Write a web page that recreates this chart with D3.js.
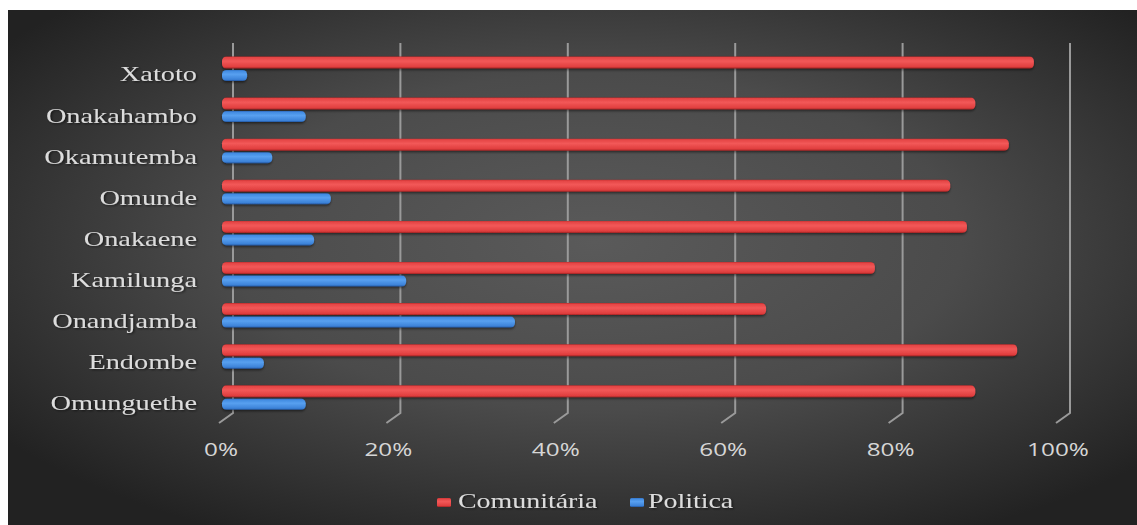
<!DOCTYPE html>
<html>
<head>
<meta charset="utf-8">
<script src="https://cdn.jsdelivr.net/npm/d3@7"></script>
<style>
  html, body { margin: 0; padding: 0; background: #ffffff; }
  svg { display: block; }
</style>
</head>
<body>
<svg id="chart" width="1137" height="525"></svg>
<script>
// Share of each kind of participation per locality (percent)
const categories = ["Xatoto", "Onakahambo", "Okamutemba", "Omunde", "Onakaene",
                    "Kamilunga", "Onandjamba", "Endombe", "Omunguethe"];
const comunitaria = [97, 90, 94, 87, 89, 78, 65, 95, 90];
const politica    = [3, 10, 6, 13, 11, 22, 35, 5, 10];
const tickValues  = [0, 20, 40, 60, 80, 100];
const seriesNames = ["Comunitária", "Politica"];

const svg = d3.select("#chart");
const W = 1137, H = 525;
const defs = svg.append("defs");

// background: dark panel with a soft radial glow
const bg = defs.append("radialGradient").attr("id", "bgGlow")
  .attr("cx", "52%").attr("cy", "45%").attr("r", "65%");
bg.append("stop").attr("offset", "0%").attr("stop-color", "#5a5a5a");
bg.append("stop").attr("offset", "50%").attr("stop-color", "#4b4b4b");
bg.append("stop").attr("offset", "100%").attr("stop-color", "#222222");

svg.append("rect").attr("x", 8).attr("y", 10).attr("width", W - 8).attr("height", H - 10)
  .attr("fill", "url(#bgGlow)");

// cylinder shading for the bars
function cylinder(id, stops) {
  const g = defs.append("linearGradient").attr("id", id)
    .attr("x1", 0).attr("y1", 0).attr("x2", 0).attr("y2", 1);
  stops.forEach(([o, c]) => g.append("stop").attr("offset", o).attr("stop-color", c));
}
cylinder("redCyl", [["0%", "#b82c2c"], ["8%", "#e44444"], ["40%", "#f25858"], ["86%", "#e03e3e"], ["100%", "#9c2222"]]);
cylinder("blueCyl", [["0%", "#2a62b4"], ["8%", "#408ae0"], ["40%", "#58a0f0"], ["86%", "#3c82d8"], ["100%", "#22549c"]]);

const soft = defs.append("filter").attr("id", "txtShadow")
  .attr("x", "-10%").attr("y", "-20%").attr("width", "120%").attr("height", "140%");
soft.append("feDropShadow").attr("dx", 1).attr("dy", 1).attr("stdDeviation", 0.8)
  .attr("flood-color", "#000").attr("flood-opacity", 0.6);

const barShadow = defs.append("filter").attr("id", "barShadow")
  .attr("x", "-2%").attr("y", "-40%").attr("width", "104%").attr("height", "180%");
barShadow.append("feDropShadow").attr("dx", 0).attr("dy", 1.5).attr("stdDeviation", 1)
  .attr("flood-color", "#000").attr("flood-opacity", 0.5);

// scales: back plane for gridlines, bars sit on the front plane
const x = d3.scaleLinear().domain([0, 100]).range([233, 1070]);
const depthX = -11, depthY = 10;
const y = d3.scaleBand().domain(categories).range([48.4, 418.4]);
const gridTop = 43, gridBottom = 413;

// gridlines with their perspective foot
const grid = svg.append("g").attr("stroke", "#9a9a9a").attr("stroke-width", 2).attr("fill", "none");
grid.selectAll("path").data(tickValues).join("path")
  .attr("d", d => `M${x(d)},${gridTop}V${gridBottom}L${x(d) + depthX - 3},${gridBottom + depthY}`);

// x-axis tick labels, placed on the front plane
const axis = d3.axisBottom(x.copy().range([233 + depthX - 1, 1070 + depthX - 1]))
  .tickValues(tickValues).tickFormat(d => d + "%").tickSize(0);
const ax = svg.append("g").attr("transform", "translate(0,443)").call(axis);
ax.select(".domain").remove();
ax.selectAll(".tick").each(function (d) {
  d3.select(this).attr("transform", `translate(${x(d) + depthX - 1},0) scale(1.35,1)`);
});
ax.selectAll("text")
  .attr("fill", "#d6d6d6")
  .attr("font-family", "'Open Sans', sans-serif")
  .attr("font-size", 18)
  .attr("dy", 0)
  .attr("y", 13);

// category labels
const labels = svg.append("g");
labels.selectAll("text").data(categories).join("text")
  .attr("transform", d => `translate(197,${y(d) + y.bandwidth() / 2 + 12.5}) scale(1.35,1)`)
  .attr("text-anchor", "end")
  .attr("font-family", "'Liberation Serif', 'Times New Roman', serif")
  .attr("font-size", 21)
  .attr("fill", "#dcdcdc")
  .attr("filter", "url(#txtShadow)")
  .text(d => d);

// bars
const x0 = x(0) + depthX;
const barW = v => x(v) - x(0);
const bars = svg.append("g").attr("filter", "url(#barShadow)");
bars.selectAll("rect.com").data(categories).join("rect").attr("class", "com")
  .attr("x", x0)
  .attr("y", d => y(d) + y.bandwidth() / 2 - 12.5)
  .attr("width", (d, i) => barW(comunitaria[i]))
  .attr("height", 12)
  .attr("rx", 4.5)
  .attr("fill", "url(#redCyl)");
bars.selectAll("rect.pol").data(categories).join("rect").attr("class", "pol")
  .attr("x", x0)
  .attr("y", d => y(d) + y.bandwidth() / 2 + 1)
  .attr("width", (d, i) => barW(politica[i]))
  .attr("height", 11)
  .attr("rx", 4.5)
  .attr("fill", "url(#blueCyl)");

// legend
const legend = svg.append("g");
const legendItems = [
  { name: seriesNames[0], fill: "url(#redCyl)", mx: 437, tx: 458 },
  { name: seriesNames[1], fill: "url(#blueCyl)", mx: 630, tx: 648 }
];
legendItems.forEach(it => {
  legend.append("rect").attr("x", it.mx).attr("y", 498).attr("width", 14).attr("height", 9)
    .attr("rx", 1.5).attr("fill", it.fill);
  legend.append("text")
    .attr("transform", `translate(${it.tx},508) scale(1.33,1)`)
    .attr("font-family", "'Liberation Serif', 'Times New Roman', serif")
    .attr("font-size", 21)
    .attr("fill", "#dcdcdc")
    .attr("filter", "url(#txtShadow)")
    .text(it.name);
});
</script>
</body>
</html>
